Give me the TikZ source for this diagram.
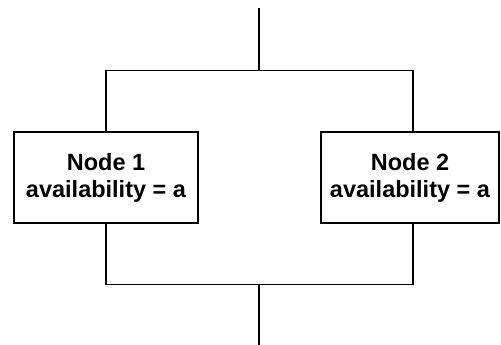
\documentclass[tikz,border=0pt]{standalone}
\usepackage{fontspec}
\setmainfont{Liberation Sans}
\begin{document}
\begin{tikzpicture}[x=1pt,y=-1pt,
  line width=1.5pt,
  unit/.style={draw, line width=1.5pt, minimum height=91pt, inner sep=0pt,
    font=\fontsize{23.5}{27}\selectfont\bfseries, align=center}]
\useasboundingbox (0,0) rectangle (501,345);
\coordinate (top) at (259,8);
\coordinate (bot) at (259,345);
\coordinate (tj) at (259,70.5);
\coordinate (bj) at (259,284.5);
\node[unit, minimum width=184pt] (n1) at (106,177.5) {Node 1\\availability = a};
\node[unit, minimum width=178pt] (n2) at (410,177.5) {Node 2\\availability = a};
\coordinate (c1) at (106,0);
\coordinate (c2) at (413,0);
\draw (top) -- (tj);
\draw (n1.north -| c1) |- (tj) -| (n2.north -| c2);
\draw (n1.south -| c1) |- (bj) -| (n2.south -| c2);
\draw (bj) -- (bot);
\end{tikzpicture}
\end{document}
